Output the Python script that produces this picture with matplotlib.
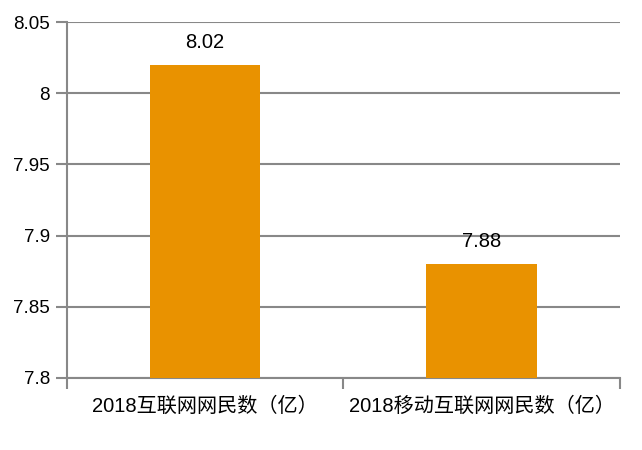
import matplotlib.pyplot as plt
import numpy as np

plt.rcParams['font.family'] = ['Liberation Sans', 'Noto Sans CJK SC', 'DejaVu Sans']

categories = ['2018互联网网民数（亿）', '2018移动互联网网民数（亿）']
values = [8.02, 7.88]

fig = plt.figure(figsize=(6.42, 4.5), dpi=100)
ax = fig.add_axes([0.104, 0.16, 0.862, 0.791])

x = np.arange(len(categories))
bars = ax.bar(x, values, width=0.4, color='#E99200', zorder=3)

for xi, v in zip(x, values):
    ax.annotate(f'{v:g}', (xi, v), xytext=(0, 16), textcoords='offset points',
                ha='center', va='center', fontsize=14.5, color='black')

ax.set_xlim(-0.5, len(categories) - 0.5)
ax.set_ylim(7.8, 8.05)
ax.set_yticks([7.8, 7.85, 7.9, 7.95, 8.0, 8.05])
ax.set_yticklabels(['7.8', '7.85', '7.9', '7.95', '8', '8.05'])

ax.set_xticks(x)
ax.set_xticklabels(categories)
ax.set_xticks(np.arange(-0.5, len(categories)), minor=True)
ax.tick_params(axis='x', which='major', length=0, pad=13, labelsize=14.5)
ax.tick_params(axis='x', which='minor', length=8, width=1.5, color='#888888')
ax.tick_params(axis='y', length=8, width=1.5, color='#888888', labelsize=13.5, pad=4)

ax.grid(axis='y', color='#888888', linewidth=1.5, zorder=0)
for side in ['top', 'right']:
    ax.spines[side].set_visible(False)
for side in ['left', 'bottom']:
    ax.spines[side].set_color('#888888')
    ax.spines[side].set_linewidth(1.5)

fig.savefig('out.png', dpi=100)
